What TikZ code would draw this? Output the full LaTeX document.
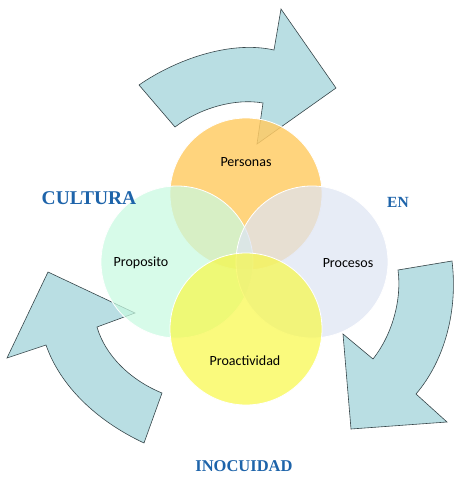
\documentclass[tikz,border=0pt]{standalone}
\usepackage{fontspec}
\setmainfont{Liberation Serif}
\newfontfamily\calibrifont{Carlito}
\definecolor{arrowfill}{RGB}{185,222,227}
\definecolor{arrowline}{RGB}{55,70,74}
\definecolor{personasc}{RGB}{255,204,102}
\definecolor{propositoc}{RGB}{200,250,225}
\definecolor{procesosc}{RGB}{222,228,243}
\definecolor{proactc}{RGB}{248,248,70}
\definecolor{titleblue}{RGB}{30,100,170}

\begin{document}
\begin{tikzpicture}[x=1pt,y=-1pt]
\tikzstyle{every node}+=[inner sep=0pt]
\tikzstyle{bigarrow}=[fill=arrowfill, draw=arrowline, line width=0.6pt, line join=miter]
\tikzstyle{ring}=[circle, minimum size=152pt, draw=white, line width=0.8pt, fill opacity=0.72]
\tikzstyle{inner}=[font=\calibrifont\fontsize{14}{16}\selectfont, text=black]
\tikzstyle{outer}=[font=\bfseries, text=titleblue]
\useasboundingbox (0,0) rectangle (470,482);
% curved arrows
\draw [bigarrow] (139,85) .. controls (175,60) and (230,40) .. (274,50) -- (281,9) -- (336,88) -- (257,144) -- (263,103) .. controls (235,98) and (200,108) .. (175,127) -- cycle;
\draw [bigarrow] (452,261) .. controls (458,310) and (445,360) .. (416,394) -- (447,422) -- (351,429) -- (343,334) -- (373,359) .. controls (392,335) and (402,300) .. (398,270) -- cycle;
\draw [bigarrow] (144,443) .. controls (95,420) and (60,385) .. (46,345) -- (7,358) -- (48,272) -- (135,313) -- (97,327) .. controls (105,355) and (130,380) .. (162,393) -- cycle;
% circles
\node [ring, fill=personasc, fill opacity=0.85] (personas) at (246,194) {};
\node [ring, fill=propositoc] (proposito) at (177,262) {};
\node [ring, fill=procesosc] (procesos) at (312,262) {};
\node [ring, fill=proactc, fill opacity=0.7] (proact) at (246,329) {};
% labels
\node [inner] (lpersonas) at (246,162) {Personas};
\node [inner] (lproposito) at (141,263) {Proposito};
\node [inner] (lprocesos) at (348,263) {Procesos};
\node [inner] (lproact) at (245,361) {Proactividad};
\node [outer, font=\bfseries\fontsize{19.5}{22}\selectfont] (cultura) at (89,198) {CULTURA};
\node [outer, font=\bfseries\fontsize{15.5}{18}\selectfont] (en) at (398,202) {EN};
\node [outer, font=\bfseries\fontsize{16.5}{19}\selectfont] (inocuidad) at (244,466) {INOCUIDAD};
\end{tikzpicture}
\end{document}
